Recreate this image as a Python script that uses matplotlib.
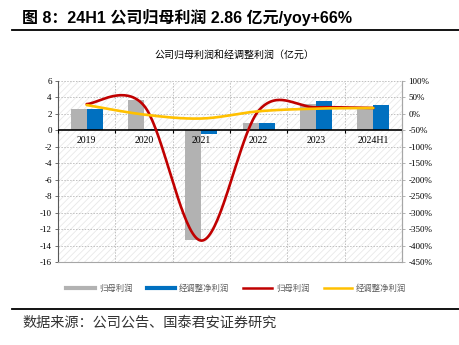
import numpy as np
import matplotlib
matplotlib.use('Agg')
import matplotlib.pyplot as plt
from matplotlib.lines import Line2D
from matplotlib.patches import Rectangle

plt.rcParams['font.family'] = ['Liberation Sans', 'Noto Sans CJK SC']
plt.rcParams['axes.unicode_minus'] = False
plt.rcParams['hatch.linewidth'] = 0.6

# data
years = ['2019', '2020', '2021', '2022', '2023', '2024H1']
net_profit = [2.65, 3.68, -13.3, 0.89, 3.16, 2.71]        # 归母利润 (亿元)
adj_profit = [2.58, 0.16, -0.40, 0.90, 3.56, 3.12]        # 经调整净利润 (亿元)
net_yoy = [30, 25, -385, 10, 20, 18]                      # 归母利润 yoy (%)
adj_yoy = [27, -2, -14, 8, 16, 18]                        # 经调整净利润 yoy (%)

GREY = '#B2B2B2'
BLUE = '#0070C0'
RED = '#C00000'
YELLOW = '#FFC000'
SERIF = 'Liberation Serif'


def smooth(x, y, n=40):
    """excel style smoothed line (catmull-rom bezier)"""
    x = np.asarray(x, float)
    y = np.asarray(y, float)
    px = np.concatenate([[x[0]], x, [x[-1]]])
    py = np.concatenate([[y[0]], y, [y[-1]]])
    xs, ys = [], []
    t = np.linspace(0, 1, n)
    for i in range(1, len(px) - 2):
        p0 = np.array([px[i], py[i]])
        p3 = np.array([px[i + 1], py[i + 1]])
        c1 = p0 + (np.array([px[i + 1], py[i + 1]]) - np.array([px[i - 1], py[i - 1]])) / 6
        c2 = p3 - (np.array([px[i + 2], py[i + 2]]) - np.array([px[i], py[i]])) / 6
        b = ((1 - t) ** 3)[:, None] * p0 + (3 * (1 - t) ** 2 * t)[:, None] * c1 \
            + (3 * (1 - t) * t ** 2)[:, None] * c2 + (t ** 3)[:, None] * p3
        xs.append(b[:, 0])
        ys.append(b[:, 1])
    return np.concatenate(xs), np.concatenate(ys)


fig = plt.figure(figsize=(4.59, 3.45), dpi=100)
ax = fig.add_axes([0.1264, 0.2406, 0.7494, 0.5246])

x = np.arange(len(years))
w = 0.28

# hatched background
bg = Rectangle((0, 0), 1, 1, transform=ax.transAxes, facecolor='white',
               edgecolor='#E8E8E8', hatch='/////', lw=0, zorder=0)
ax.add_patch(bg)

ax.bar(x - w / 2, net_profit, w, color=GREY, zorder=3)
ax.bar(x + w / 2, adj_profit, w, color=BLUE, zorder=3)

ax.set_xlim(-0.5, len(years) - 0.5)
ax.set_ylim(-16, 6)
ax.set_yticks(np.arange(-16, 7, 2))
ax.set_yticklabels([str(v) for v in range(-16, 7, 2)], family=SERIF, fontsize=6.5)
ax.set_xticks([])

# grid
for v in range(-16, 7, 2):
    if v != 0:
        ax.axhline(v, color='#C0C0C0', lw=0.7, ls=(0, (1.5, 1.5)), zorder=1)
for b in np.arange(0.5, len(years) - 0.5):
    ax.axvline(b, color='#C0C0C0', lw=0.7, ls=(0, (1.5, 1.5)), zorder=1)

ax.axhline(0, color='black', lw=1.2, zorder=4)
ax.vlines(np.arange(-0.5, len(years)), -0.35, 0, color='black', lw=0.8, zorder=4)

for i, yr in enumerate(years):
    ax.annotate(yr, (i, 0), xytext=(0, -4), textcoords='offset points',
                ha='center', va='top', fontsize=7, family=SERIF, zorder=5)

ax.spines['top'].set_visible(False)
ax.spines['left'].set_color('#595959')
ax.spines['bottom'].set_color('#A6A6A6')
ax.spines['right'].set_color('#A6A6A6')
ax.tick_params(axis='y', length=2.5, width=0.6, color='#595959', pad=2)

ax2 = ax.twinx()
ax2.set_ylim(-450, 100)
ax2.set_yticks(np.arange(-450, 101, 50))
ax2.set_yticklabels(['%d%%' % v for v in range(-450, 101, 50)], family=SERIF, fontsize=6.5)
ax2.tick_params(axis='y', length=2.5, width=0.6, color='#A6A6A6', pad=2)
for s in ['top', 'left', 'bottom']:
    ax2.spines[s].set_visible(False)
ax2.spines['right'].set_color('#A6A6A6')

sx, sy = smooth(x, net_yoy)
ax2.plot(sx, sy, color=RED, lw=1.9, solid_capstyle='round', zorder=5)
sx, sy = smooth(x, adj_yoy)
ax2.plot(sx, sy, color=YELLOW, lw=1.9, solid_capstyle='round', zorder=6)

# title and frame lines
fig.text(0.048, 0.948, '图 8：24H1 公司归母利润 2.86 亿元/yoy+66%', fontsize=11.5,
         fontweight='bold', ha='left', va='center')
fig.add_artist(Line2D([0.026, 1.0], [0.913, 0.913], color='black', lw=1.3))
fig.text(0.51, 0.84, '公司归母利润和经调整利润（亿元）', fontsize=7.2, ha='center', va='center',
         family=['Noto Sans CJK SC'])

handles = [Line2D([], [], color=GREY, lw=3),
           Line2D([], [], color=BLUE, lw=3),
           Line2D([], [], color=RED, lw=1.8),
           Line2D([], [], color=YELLOW, lw=1.8)]
labels = ['归母利润', '经调整净利润', '归母利润', '经调整净利润']
leg = fig.legend(handles, labels, loc='center', bbox_to_anchor=(0.515, 1 - 288 / 345), ncol=4,
                 frameon=False, handlelength=3.4, handletextpad=0.5,
                 columnspacing=1.7, prop={'family': 'Noto Sans CJK SC', 'size': 6})
for t in leg.get_texts():
    t.set_color('#595959')

fig.add_artist(Line2D([0.026, 1.0], [1 - 309 / 345, 1 - 309 / 345], color='black', lw=1.3))
fig.text(0.048, 1 - 323 / 345, '数据来源：公司公告、国泰君安证券研究', fontsize=10.2,
         ha='left', va='center', family=['Noto Sans CJK SC'], color='#333333')

fig.savefig('out.png', dpi=100)
